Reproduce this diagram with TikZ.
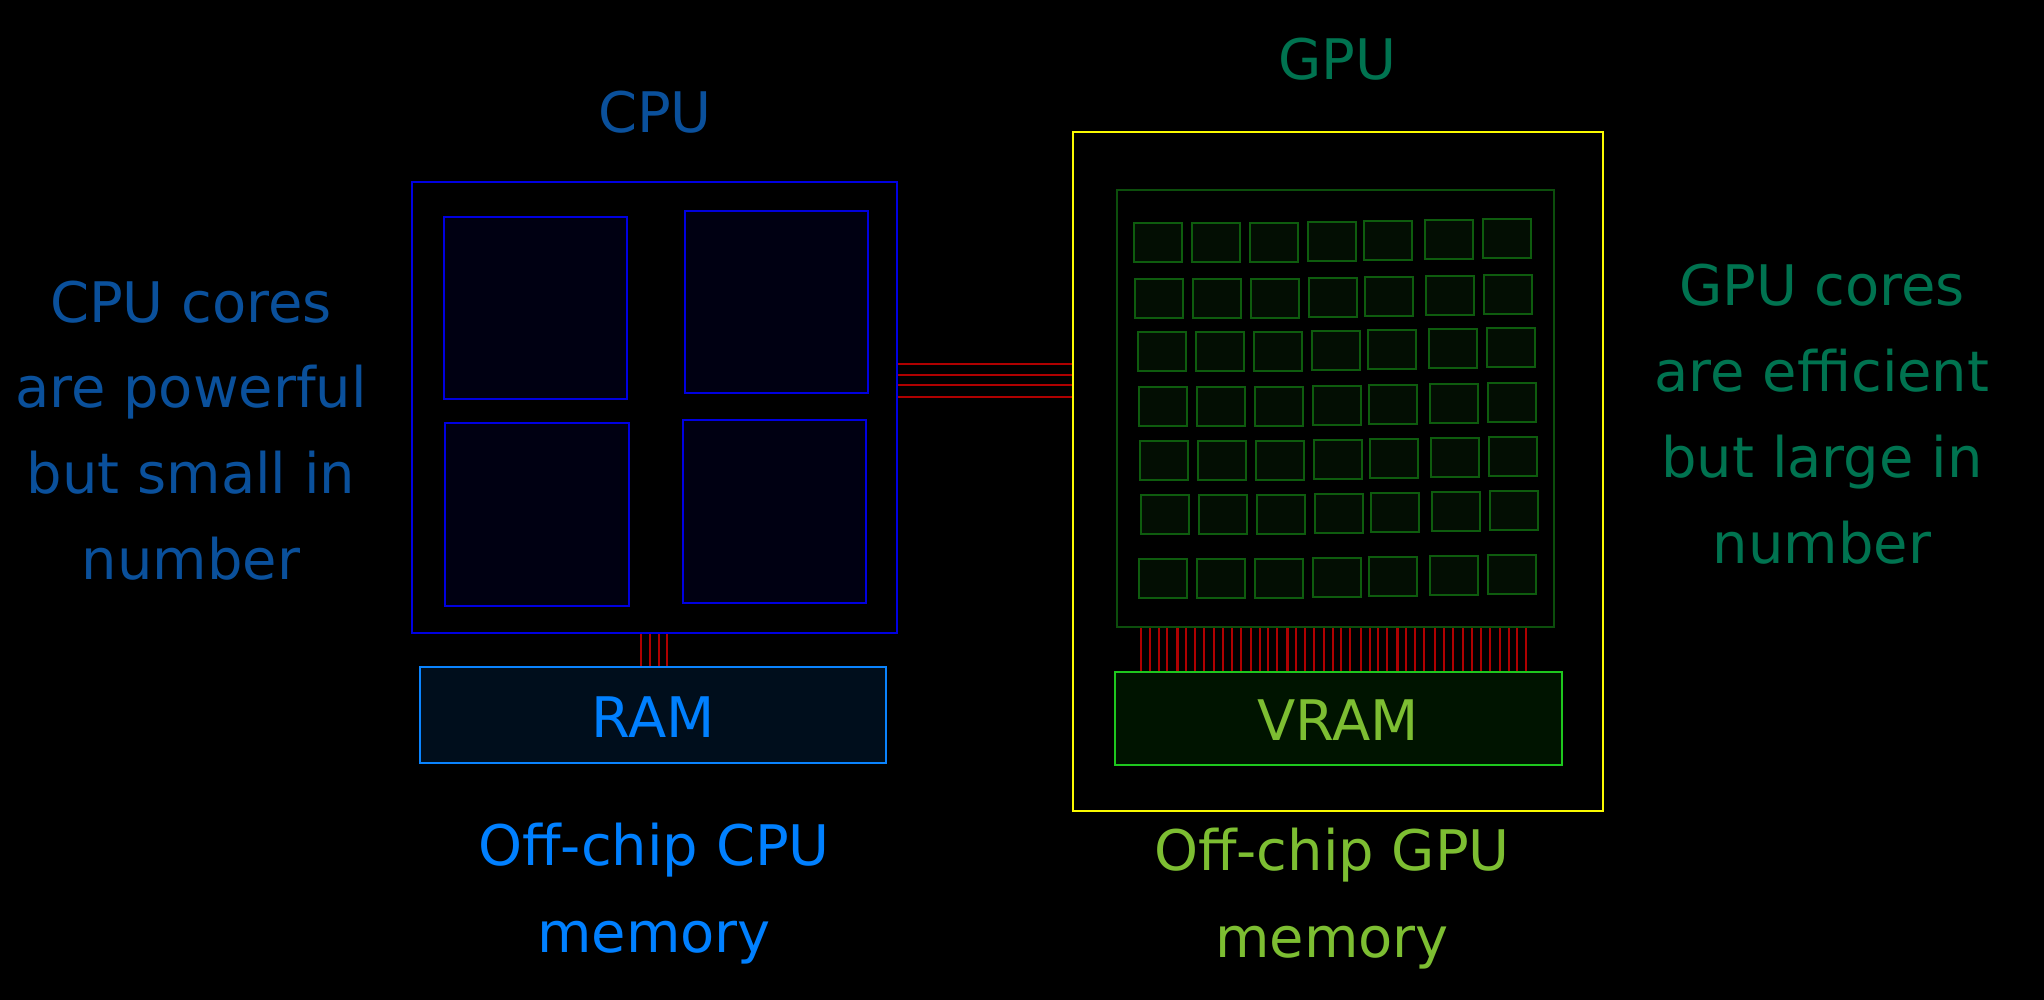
\documentclass[tikz,border=0pt]{standalone}
\usepackage{fontspec}
\setmainfont{DejaVu Sans}
\usetikzlibrary{fit}
\definecolor{cpublue}{RGB}{0,0,225}
\definecolor{cpufill}{RGB}{0,0,18}
\definecolor{ramedge}{RGB}{10,132,255}
\definecolor{ramfill}{RGB}{0,14,28}
\definecolor{ramtext}{RGB}{0,128,255}
\definecolor{cputext}{RGB}{10,80,155}
\definecolor{gpuyellow}{RGB}{250,250,0}
\definecolor{gpuregion}{RGB}{12,78,12}
\definecolor{coreedge}{RGB}{14,92,14}
\definecolor{corefill}{RGB}{3,14,3}
\definecolor{vramedge}{RGB}{30,200,30}
\definecolor{vramfill}{RGB}{0,20,0}
\definecolor{vramtext}{RGB}{125,190,50}
\definecolor{gputext}{RGB}{0,115,80}
\definecolor{wire}{RGB}{175,0,0}
\tikzset{
  txt/.style={inner sep=0pt, anchor=base, font=\fontsize{15.9}{24}\selectfont},
  box/.style={inner sep=0pt, line width=0.65pt},
  wireline/.style={draw=wire, line width=0.6pt},
}
\begin{document}
\begin{tikzpicture}[x=0.01cm, y=-0.01cm]
\fill[black] (0,0) rectangle (2044,1000);
\useasboundingbox (0,0) rectangle (2044,1000);

% CPU
\node[box, draw=cpublue, fit={(412,182) (897,633)}] (cpu) {};
\node[box, draw=cpublue, fill=cpufill, fit={(444,217) (627,399)}] (c1) {};
\node[box, draw=cpublue, fill=cpufill, fit={(685,211) (868,393)}] (c2) {};
\node[box, draw=cpublue, fill=cpufill, fit={(445,423) (629,606)}] (c3) {};
\node[box, draw=cpublue, fill=cpufill, fit={(683,420) (866,603)}] (c4) {};
\node[box, draw=ramedge, fill=ramfill, fit={(420,667) (886,763)}] (ram) {};
\node[txt, text=ramtext] (ramlbl) at (653,737) {RAM};

% GPU
\node[box, draw=gpuyellow, line width=0.7pt, fit={(1073,132) (1603,811)}] (gpu) {};
\node[box, draw=gpuregion, fit={(1117,190) (1554,627)}] (grid) {};
\node[box, draw=vramedge, fill=vramfill, fit={(1115,672) (1562,765)}] (vram) {};
\node[txt, text=vramtext] (vramlbl) at (1338,740) {VRAM};

\foreach \ry [count=\i] in {223,279,332,387,441,495,559} {
  \pgfmathsetmacro{\rdx}{{0,1,4,5,6,7,5}[\i-1]}
  \foreach \cx/\cdy in {1134/0,1192/0,1250/0,1308/-1,1364/-2,1425/-3,1483/-4} {
    \draw[line width=0.65pt, draw=coreedge, fill=corefill]
      (\cx+\rdx,\ry+\cdy) rectangle (\cx+\rdx+48,\ry+\cdy+39);
  }
}

% wires CPU -> GPU
\foreach \wy in {364,375,385,397} {
  \draw[wireline] (cpu.east |- 0,\wy) -- (gpu.west |- 0,\wy);
}
% wires CPU -> RAM
\foreach \wx in {641,650,659,667} {
  \draw[wireline] (cpu.south -| \wx,0) -- (ram.north -| \wx,0);
}
% wires GPU grid -> VRAM
\foreach \wx in {1141,1150,1158.6,1167,1177.5,1186.4,1194.6,1203.6,1214.3,1223.2,1231.8,1240.7,1250.7,1259.6,1268.2,1277.1,1287.5,1296.4,1305,1313.9,1324.3,1333.2,1341.4,1350.4,1360.7,1369.6,1378.2,1387.1,1397.5,1406.1,1414.6,1423.6,1435.4,1443.9,1452.9,1463.2,1472.1,1480.7,1489.6,1499.6,1508.6,1517.1,1525.7} {
  \draw[wireline] (grid.south -| \wx,0) -- (vram.north -| \wx,0);
}

% titles
\node[txt, text=cputext] (cputitle) at (655,133) {CPU};
\node[txt, text=gputext] (gputitle) at (1337,80) {GPU};

% left text
\node[txt, text=cputext] (l1) at (191,322) {CPU cores};
\node[txt, text=cputext] (l2) at (191,407) {are powerful};
\node[txt, text=cputext] (l3) at (191,493) {but small in};
\node[txt, text=cputext] (l4) at (191,579) {number};

% right text
\node[txt, text=gputext] (r1) at (1822,305) {GPU cores};
\node[txt, text=gputext] (r2) at (1822,391) {are efficient};
\node[txt, text=gputext] (r3) at (1822,477) {but large in};
\node[txt, text=gputext] (r4) at (1822,563) {number};

% bottom captions
\node[txt, text=ramtext] (m1) at (654,865) {Off-chip CPU};
\node[txt, text=ramtext] (m2) at (654,952) {memory};
\node[txt, text=vramtext] (v1) at (1332,870) {Off-chip GPU};
\node[txt, text=vramtext] (v2) at (1332,957) {memory};
\end{tikzpicture}
\end{document}
